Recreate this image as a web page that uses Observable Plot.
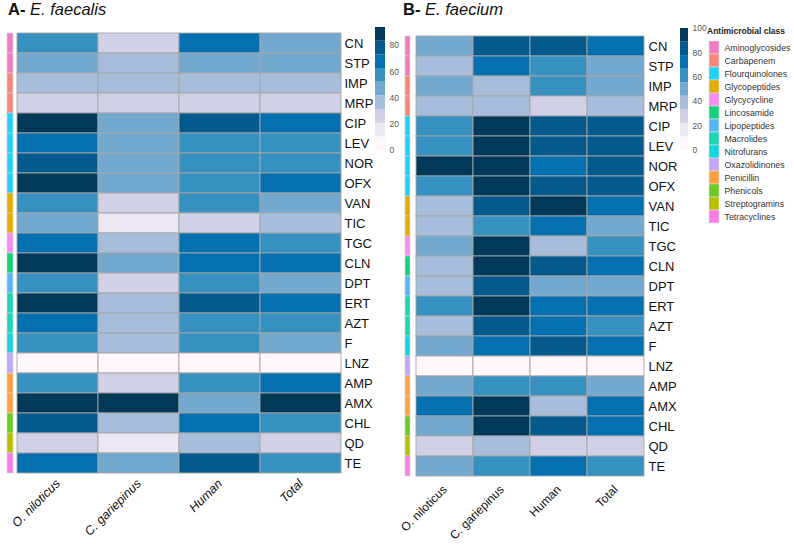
<!DOCTYPE html>
<html>
<head>
<meta charset="utf-8">
<script src="https://cdn.jsdelivr.net/npm/d3@7"></script>
<script src="https://cdn.jsdelivr.net/npm/@observablehq/plot@0.6"></script>
<style>
  html, body { margin: 0; padding: 0; background: #fff; }
  #root { position: relative; width: 794px; height: 547px; overflow: hidden; font-family: "Liberation Sans", Arial, sans-serif; }
  #root > * { position: absolute; }
  #root svg { overflow: visible; }
  .title { font-size: 16.5px; color: #111; white-space: nowrap; }
  .title b { font-weight: bold; }
  .title i { font-style: italic; }
  .legtitle { font-size: 8.5px; font-weight: bold; color: #222; white-space: nowrap; }
</style>
</head>
<body>
<div id="root"></div>
<script>
// ---------- data ----------
const drugs = ["CN","STP","IMP","MRP","CIP","LEV","NOR","OFX","VAN","TIC","TGC","CLN","DPT","ERT","AZT","F","LNZ","AMP","AMX","CHL","QD","TE"];
const drugClass = ["Aminoglycosides","Aminoglycosides","Carbapenem","Carbapenem","Flourquinolones","Flourquinolones","Flourquinolones","Flourquinolones","Glycopeptides","Glycopeptides","Glycycycline","Lincosamide","Lipopeptides","Macrolides","Macrolides","Nitrofurans","Oxazolidinones","Penicillin","Penicillin","Phenicols","Streptogramins","Tetracyclines"];
const groups = ["O. niloticus","C. gariepinus","Human","Total"];

// E. faecalis (% resistance), one array per column
const faecalisNiloticus = [57,45,35,25,90,67,77,90,57,45,67,90,57,90,67,57,0,57,90,77,25,67];
const faecalisGariepinus = [25,35,35,25,45,45,45,45,25,15,35,45,25,35,35,35,0,25,93.75,35,15,45];
const faecalisHuman = [67,45,35,25,77,57,57,57,57,25,67,67,57,77,57,57,0,57,45,67,35,77];
const faecalisTotal = [45,45,35,25,67,57,57,67,45,35,57,67,45,67,57,45,0,67,90,57,25,57];

// E. faecium (% resistance)
const faeciumNiloticus = [50,40,50,40,60,60,100,60,40,40,50,40,40,60,40,50,0,50,72,50,28,50];
const faeciumGariepinus = [83,72,40,40,100,100,100,100,83,60,100,100,83,100,83,72,0,60,100,100,40,60];
const faeciumHuman = [83,60,60,28,83,83,72,83,95,72,40,83,50,72,72,83,0,60,40,83,28,72];
const faeciumTotal = [72,50,50,40,83,83,83,83,72,50,60,72,50,72,60,72,0,50,72,72,28,60];

const classNames = ["Aminoglycosides","Carbapenem","Flourquinolones","Glycopeptides","Glycycycline","Lincosamide","Lipopeptides","Macrolides","Nitrofurans","Oxazolidinones","Penicillin","Phenicols","Streptogramins","Tetracyclines"];
const classColors = ["#F37BBF","#F8877A","#1ED2F8","#E1AE00","#F98CF0","#13D37A","#55B8F5","#1BD6B0","#13D5E0","#C3A7F7","#FFA13D","#6CCB22","#B8C100","#FA7DEA"];

const legendTicksA = [0,20,40,60,80];
const legendTicksB = [0,20,40,60,80,100];

// ---------- helpers ----------
const FONT = "Liberation Sans, Arial, sans-serif";
const PuBu = ["#fff7fb","#ece7f2","#d0d1e6","#a6bddb","#74a9cf","#3690c0","#0570b0","#045a8d","#023858"];
const root = document.getElementById("root");

function place(el, left, top) {
  el.style.left = left + "px";
  el.style.top = top + "px";
  root.appendChild(el);
}

function colorScale(max) {
  return {type: "threshold", domain: d3.range(1, 9).map(i => i * max / 9), range: PuBu};
}

function table(cols) {
  return drugs.flatMap((d, i) => groups.map((g, j) => ({drug: d, group: g, value: cols[j][i]})));
}

function heatmap({cols, max, width, mLeft, mRight, mTop, mBottom, italic, xFont, yFont}) {
  return Plot.plot({
    width, height: 547,
    marginLeft: mLeft, marginRight: mRight, marginTop: mTop, marginBottom: mBottom,
    style: {fontFamily: FONT, background: "transparent", color: "#111"},
    x: {domain: groups, padding: 0, label: null, axis: null},
    y: {domain: drugs, padding: 0, label: null, axis: null},
    color: colorScale(max),
    marks: [
      Plot.cell(table(cols), {x: "group", y: "drug", fill: "value", stroke: "#a6a6a6", strokeWidth: 0.9}),
      Plot.axisY({anchor: "right", tickSize: 0, tickPadding: 3, fontSize: yFont, label: null}),
      Plot.axisX({anchor: "bottom", tickSize: 0, tickPadding: 4, tickRotate: -45, fontSize: xFont, fontStyle: italic ? "italic" : "normal", label: null})
    ]
  });
}

function strip({width, mLeft, mRight, mTop, mBottom}) {
  const data = drugs.map((d, i) => ({drug: d, color: classColors[classNames.indexOf(drugClass[i])]}));
  return Plot.plot({
    width, height: 547,
    marginLeft: mLeft, marginRight: mRight, marginTop: mTop, marginBottom: mBottom,
    style: {background: "transparent"},
    x: {axis: null}, y: {domain: drugs, padding: 0, axis: null},
    marks: [Plot.cell(data, {x: () => "a", y: "drug", fill: "color", stroke: "#d4d4d4", strokeWidth: 0.6})]
  });
}

function colorbar({max, ticks, width, mLeft, mRight, mTop, mBottom, height}) {
  const bins = d3.range(9).map(i => ({y1: i * max / 9, y2: (i + 1) * max / 9, mid: (i + 0.5) * max / 9}));
  return Plot.plot({
    width, height,
    marginLeft: mLeft, marginRight: mRight, marginTop: mTop, marginBottom: mBottom,
    style: {fontFamily: FONT, background: "transparent", color: "#555"},
    x: {axis: null},
    y: {domain: [0, max], axis: null},
    color: colorScale(max),
    marks: [
      Plot.rectY(bins, {x1: 0, x2: 1, y1: "y1", y2: "y2", fill: "mid"}),
      Plot.axisY({anchor: "right", ticks, tickSize: 0, tickPadding: 4, fontSize: 8.5, label: null, tickFormat: d => d})
    ]
  });
}

// ---------- titles ----------
const tA = document.createElement("div");
tA.className = "title"; tA.innerHTML = "<b>A-</b> <i>E. faecalis</i>";
place(tA, 8, 0);
const tB = document.createElement("div");
tB.className = "title"; tB.innerHTML = "<b>B-</b> <i>E. faecium</i>";
place(tB, 403, 0);

// ---------- panel A ----------
const maxA = d3.max([faecalisNiloticus, faecalisGariepinus, faecalisHuman, faecalisTotal].flat());
place(strip({width: 16, mLeft: 6, mRight: 2, mTop: 28, mBottom: 70}), 0, 0);
place(heatmap({cols: [faecalisNiloticus, faecalisGariepinus, faecalisHuman, faecalisTotal], max: maxA,
  width: 380, mLeft: 16, mRight: 39, mTop: 28, mBottom: 70, italic: true, xFont: 12.5, yFont: 13}), 0, 0);
place(colorbar({max: maxA, ticks: legendTicksA, width: 40, height: 160, mLeft: 5, mRight: 25, mTop: 27, mBottom: 10}), 370, 0);

// ---------- panel B ----------
const maxB = 100;
place(strip({width: 14, mLeft: 4, mRight: 3, mTop: 28, mBottom: 64}), 400, 0);
place(heatmap({cols: [faeciumNiloticus, faeciumGariepinus, faeciumHuman, faeciumTotal], max: maxB,
  width: 280, mLeft: 14, mRight: 35, mTop: 28, mBottom: 64, italic: false, xFont: 12, yFont: 13}), 400, 0);
place(colorbar({max: maxB, ticks: legendTicksB, width: 35, height: 160, mLeft: 5, mRight: 22, mTop: 28, mBottom: 10}), 675, 0);

// ---------- class legend ----------
const lt = document.createElement("div");
lt.className = "legtitle"; lt.textContent = "Antimicrobial class";
place(lt, 707, 26);
const classLegend = Plot.plot({
  width: 94, height: 240,
  marginLeft: 7, marginRight: 74, marginTop: 37, marginBottom: 13,
  style: {fontFamily: FONT, background: "transparent", color: "#333"},
  x: {axis: null},
  y: {domain: classNames, padding: 0, axis: null},
  marks: [
    Plot.cell(classNames.map((c, i) => ({c, color: classColors[i]})), {x: () => "a", y: "c", fill: "color", stroke: "#e0e0e0", strokeWidth: 0.6}),
    Plot.axisY({anchor: "right", tickSize: 0, tickPadding: 4, fontSize: 8.8, label: null})
  ]
});
place(classLegend, 700, 0);
</script>
</body>
</html>
